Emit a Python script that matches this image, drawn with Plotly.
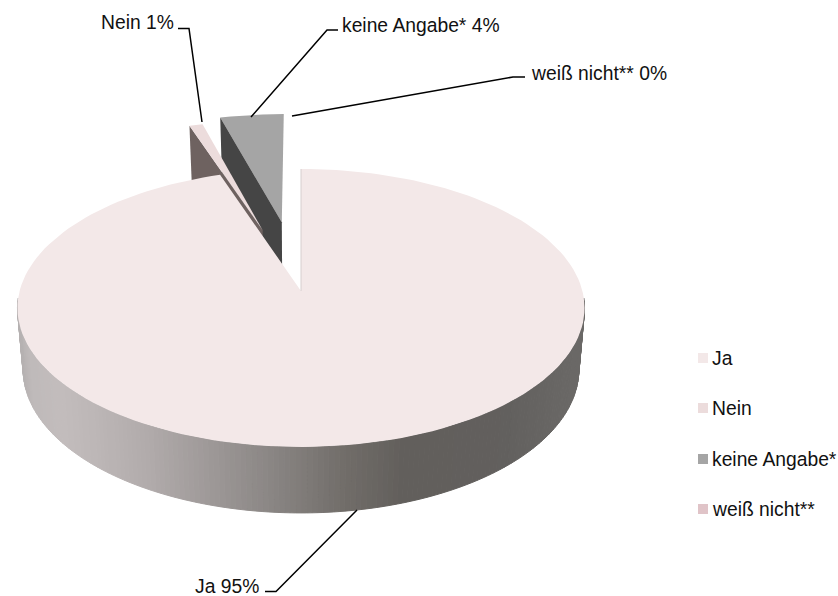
import numpy as np
import plotly.graph_objects as go

categories = ["Ja", "Nein", "keine Angabe*", "weiß nicht**"]
values = [94.8, 0.9, 4.3, 0.0]
top_colors = ["#f3e8e8", "#ecdcdc", "#a5a5a5", "#e0c4c8"]
face_colors = ["#8a8684", "#6e6260", "#454545", "#8a7a7a"]
exploded = [0.0, 0.49, 0.54, 0.54]

CX, CY, A, B, K = 301.0, 291.0, 281.4, 136.9, 0.1223
SX, SY, D = 0.98, 1.033, 60.8
FONT = dict(family="Liberation Sans, Arial, sans-serif", size=19.3, color="#111111")


def project(u, v, bottom=False):
    u, v = np.asarray(u, float), np.asarray(v, float)
    w = 1 + K * v
    x, y = A * u / w, -B * v / w
    if bottom:
        x, y = SX * x, SY * y + D
    return CX + x, CY + y


def hex_rgb(h):
    return np.array([int(h[i:i + 2], 16) for i in (1, 3, 5)], float)


fig = go.Figure()


def poly(x, y, color, line=False):
    fig.add_trace(go.Scatter(
        x=x, y=y, mode="lines", fill="toself", fillcolor=color,
        line=dict(color=color, width=1 if line else 0),
        hoverinfo="skip", showlegend=False))


total = sum(values)
edges = np.cumsum([0] + values) / total * 2 * np.pi


def wedge_angles(i):
    n = max(int(np.degrees(edges[i + 1] - edges[i]) / 2), 2)
    return np.linspace(edges[i], edges[i + 1], n)


def offset(i):
    mid = (edges[i] + edges[i + 1]) / 2
    return exploded[i] * np.sin(mid), exploded[i] * np.cos(mid)


def top_wedge(i):
    t = wedge_angles(i)
    ou, ov = offset(i)
    x, y = project(np.r_[ou, ou + np.sin(t), ou], np.r_[ov, ov + np.cos(t), ov])
    poly(x, y, top_colors[i])


def cut_face(i):
    t0 = edges[i]
    ou, ov = offset(i)
    u = np.array([ou, ou + np.sin(t0)])
    v = np.array([ov, ov + np.cos(t0)])
    x1, y1 = project(u, v)
    x2, y2 = project(u, v, True)
    poly(np.r_[x1, x2[::-1], x1[0]], np.r_[y1, y2[::-1], y1[0]], face_colors[i])


# exploded slices, back to front
top_wedge(2)
cut_face(2)
cut_face(1)
top_wedge(1)

# rim of the big slice: shading by horizontal position
shade_x = [18, 30, 60, 100, 146, 211, 269, 346, 404, 500, 577, 585]
shade_c = ["#b4b0b0", "#bfbaba", "#c3bdbd", "#bcb6b6", "#b2acac", "#9e9998",
           "#8b8785", "#716d69", "#625f5c", "#62605e", "#6b6967", "#6b6967"]
shade_rgb = np.array([hex_rgb(c) for c in shade_c])
t = np.radians(np.arange(93, 268, 1.0))
for a, b in zip(t[:-1], t[1:]):
    pair = np.array([a, b])
    x1, y1 = project(np.sin(pair), np.cos(pair))
    x2, y2 = project(np.sin(pair), np.cos(pair), True)
    mx = (x1.mean() + x2.mean()) / 2
    c = [int(np.interp(mx, shade_x, shade_rgb[:, k])) for k in range(3)]
    poly(np.r_[x1, x2[::-1], x1[0]], np.r_[y1, y2[::-1], y1[0]], f"rgb({c[0]},{c[1]},{c[2]})", True)

top_wedge(0)
ex, ey = project([0, 0], [0, 1])
fig.add_trace(go.Scatter(x=ex, y=ey, mode="lines", line=dict(color="#d6cece", width=1),
                         hoverinfo="skip", showlegend=False))

# leader lines and data labels
leader_x = [[178, 189, 202], [338, 327, 251], [525, 513, 292], [265, 276, 357]]
leader_y = [[28.5, 28.5, 122], [30, 30, 117], [77, 77, 116], [591.5, 591.5, 510]]
label_x = [175.5, 340, 528.5, 261]
label_y = [22, 25, 73, 586]
label_order = [1, 2, 3, 0]
anchors = ["right", "left", "left", "right"]
for lx, ly, tx, ty, i, anc in zip(leader_x, leader_y, label_x, label_y, label_order, anchors):
    fig.add_trace(go.Scatter(x=lx, y=ly, mode="lines", line=dict(color="#000000", width=1.5),
                             hoverinfo="skip", showlegend=False))
    fig.add_annotation(x=tx, y=ty, text=f"{categories[i]} {round(values[i])}%", showarrow=False,
                       xanchor=anc, yanchor="middle", font=FONT)

# legend
legend_y = [358, 408, 459, 509]
fig.add_trace(go.Scatter(
    x=[703] * 4, y=legend_y, mode="markers",
    marker=dict(symbol="square", size=10, color=top_colors, line=dict(width=0)),
    hoverinfo="skip", showlegend=False))
for name, ly in zip(categories, legend_y):
    fig.add_annotation(x=709.5, y=ly, text=name, showarrow=False, xanchor="left",
                       yanchor="middle", font=FONT)

fig.update_layout(
    width=838, height=596, margin=dict(l=0, r=0, t=0, b=0),
    paper_bgcolor="white", plot_bgcolor="white",
    xaxis=dict(range=[0, 838], visible=False, fixedrange=True),
    yaxis=dict(range=[596, 0], visible=False, fixedrange=True),
)
fig.write_html("out.html", config={"displayModeBar": False},
               post_script="document.body.style.margin='0';")
